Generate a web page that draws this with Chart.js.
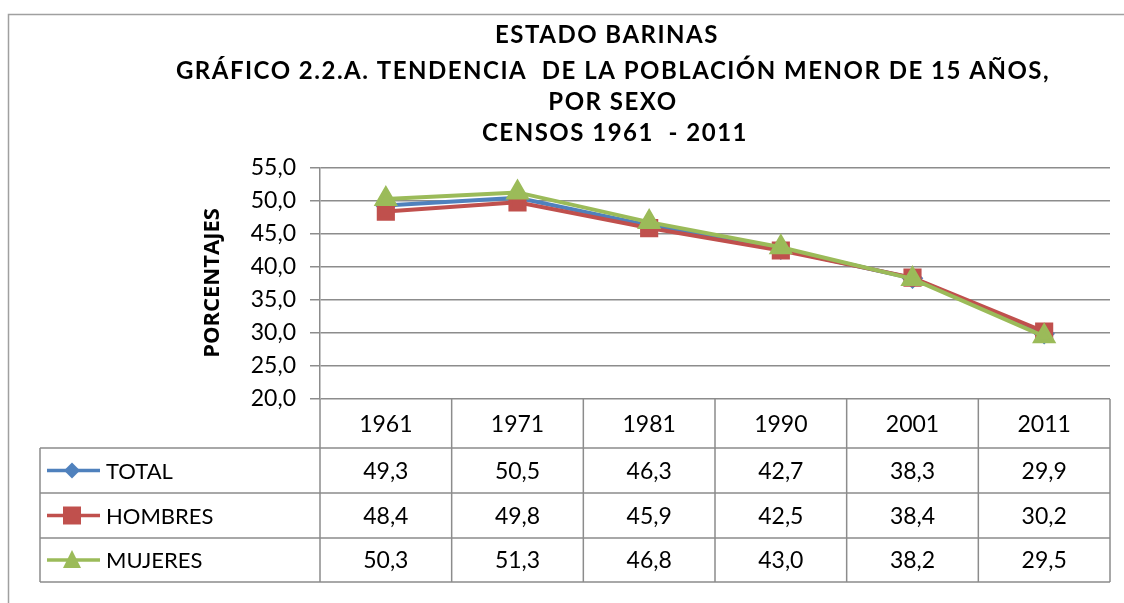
<!DOCTYPE html>
<html lang="es">
<head>
    <meta charset="UTF-8">
    <title>Estado Barinas - Población menor de 15 años por sexo</title>
    <script src="https://cdn.jsdelivr.net/npm/chart.js"></script>
    <style>
        html, body {
            margin: 0;
            padding: 0;
            background: #ffffff;
        }
        #wrap {
            width: 1124px;
            height: 603px;
            position: relative;
        }
    </style>
</head>
<body>
    <div id="wrap"><canvas id="chart" width="1124" height="603"></canvas></div>

    <script>
        // Data
        const years = ["1961", "1971", "1981", "1990", "2001", "2011"];
        const total = [49.3, 50.5, 46.3, 42.7, 38.3, 29.9];
        const hombres = [48.4, 49.8, 45.9, 42.5, 38.4, 30.2];
        const mujeres = [50.3, 51.3, 46.8, 43.0, 38.2, 29.5];
        const yTicks = [20, 25, 30, 35, 40, 45, 50, 55];

        const titleLines = [
            "ESTADO BARINAS",
            "GRÁFICO 2.2.A. TENDENCIA  DE LA POBLACIÓN MENOR DE 15 AÑOS,",
            "POR SEXO",
            "CENSOS 1961  - 2011"
        ];

        const BLUE = '#4F81BD';
        const RED = '#C0504D';
        const GREEN = '#9BBB59';
        const GRID = '#8c8c8c';

        function fmt(v) {
            return v.toFixed(1).replace('.', ',');
        }

        // frame, title, axis title and the data table underneath
        const decorPlugin = {
            id: 'decor',
            beforeDraw(chart) {
                const ctx = chart.ctx;
                ctx.save();
                ctx.strokeStyle = '#a0a0a0';
                ctx.lineWidth = 1.5;
                ctx.beginPath();
                ctx.moveTo(8.5, 603);
                ctx.lineTo(8.5, 14.5);
                ctx.lineTo(1124, 14.5);
                ctx.stroke();
                ctx.restore();
            },
            afterDraw(chart) {
                const ctx = chart.ctx;
                const x = chart.scales.x;
                const area = chart.chartArea;
                ctx.save();

                // title
                ctx.fillStyle = '#000';
                ctx.textAlign = 'center';
                ctx.textBaseline = 'middle';
                ctx.font = 'bold 24px Lato';
                ctx.letterSpacing = '1.5px';
                const ty = [35, 71, 102, 133];
                const tx = [607, 613, 613, 615];
                titleLines.forEach((t, i) => ctx.fillText(t, tx[i], ty[i]));
                ctx.letterSpacing = '0px';

                // y axis title
                ctx.save();
                ctx.translate(213, 283);
                ctx.rotate(-Math.PI / 2);
                ctx.font = 'bold 22px "Open Sans"';
                ctx.fillText('PORCENTAJES', 0, 0);
                ctx.restore();

                // table
                const left = 40, colLeft = area.left, right = area.right;
                const rowTops = [area.bottom, 448, 493, 538, 582];
                ctx.strokeStyle = GRID;
                ctx.lineWidth = 1.5;
                ctx.beginPath();
                for (let i = 1; i < rowTops.length; i++) {
                    ctx.moveTo(left, rowTops[i]);
                    ctx.lineTo(right, rowTops[i]);
                }
                ctx.moveTo(left, rowTops[1]);
                ctx.lineTo(left, rowTops[4]);
                const step = (right - colLeft) / years.length;
                for (let i = 0; i <= years.length; i++) {
                    const cx = colLeft + step * i;
                    ctx.moveTo(cx, area.bottom);
                    ctx.lineTo(cx, rowTops[4]);
                }
                ctx.stroke();

                ctx.font = '23px Lato';
                ctx.fillStyle = '#000';
                ctx.textAlign = 'center';
                const rows = [total, hombres, mujeres];
                years.forEach((yr, i) => {
                    const cx = x.getPixelForValue(i);
                    ctx.fillText(yr, cx, (rowTops[0] + rowTops[1]) / 2 + 1);
                    rows.forEach((r, j) => {
                        ctx.fillText(fmt(r[i]), cx, (rowTops[j + 1] + rowTops[j + 2]) / 2 + 1);
                    });
                });

                // legend keys inside the table
                const names = ['TOTAL', 'HOMBRES', 'MUJERES'];
                const colors = [BLUE, RED, GREEN];
                ctx.font = '22px Lato';
                names.forEach((n, j) => {
                    const cy = (rowTops[j + 1] + rowTops[j + 2]) / 2;
                    ctx.strokeStyle = colors[j];
                    ctx.lineWidth = 3.5;
                    ctx.beginPath();
                    ctx.moveTo(47, cy);
                    ctx.lineTo(100, cy);
                    ctx.stroke();
                    ctx.fillStyle = colors[j];
                    ctx.beginPath();
                    if (j === 0) {
                        ctx.moveTo(72, cy - 8); ctx.lineTo(80, cy); ctx.lineTo(72, cy + 8); ctx.lineTo(64, cy);
                    } else if (j === 1) {
                        ctx.rect(63, cy - 9, 18, 18);
                    } else {
                        ctx.moveTo(72, cy - 10); ctx.lineTo(81, cy + 8); ctx.lineTo(63, cy + 8);
                    }
                    ctx.closePath();
                    ctx.fill();
                    ctx.fillStyle = '#000';
                    ctx.textAlign = 'left';
                    ctx.fillText(n, 106, cy + 1);
                });
                ctx.restore();
            }
        };

        new Chart(document.getElementById('chart'), {
            type: 'line',
            data: {
                labels: years,
                datasets: [
                    {
                        label: 'TOTAL', data: total, order: 2,
                        borderColor: BLUE, backgroundColor: BLUE, borderWidth: 4,
                        pointStyle: 'rectRot', pointRadius: 8, pointHoverRadius: 8
                    },
                    {
                        label: 'HOMBRES', data: hombres, order: 1,
                        borderColor: RED, backgroundColor: RED, borderWidth: 4,
                        pointStyle: 'rect', pointRadius: 10, pointHoverRadius: 10
                    },
                    {
                        label: 'MUJERES', data: mujeres, order: 0,
                        borderColor: GREEN, backgroundColor: GREEN, borderWidth: 4,
                        pointStyle: 'triangle', pointRadius: 10, pointHoverRadius: 10
                    }
                ]
            },
            options: {
                responsive: false,
                animation: false,
                layout: { padding: { left: 0, top: 168, right: 11, bottom: 204 } },
                plugins: {
                    legend: { display: false },
                    title: { display: false },
                    tooltip: { enabled: false }
                },
                elements: { line: { tension: 0 }, point: { borderWidth: 0 } },
                scales: {
                    x: {
                        display: false,
                        offset: true
                    },
                    y: {
                        min: 20,
                        max: 55,
                        afterFit(scale) { scale.width = 320; },
                        afterBuildTicks(scale) { scale.ticks = yTicks.map(v => ({ value: v })); },
                        ticks: {
                            padding: 14,
                            color: '#000',
                            font: { family: 'Lato', size: 23 },
                            callback: v => fmt(v)
                        },
                        grid: {
                            color: GRID,
                            lineWidth: 1.5,
                            tickLength: 10,
                            drawTicks: true
                        },
                        border: { color: GRID, width: 1.5 }
                    }
                }
            },
            plugins: [decorPlugin]
        });
    </script>
</body>
</html>
